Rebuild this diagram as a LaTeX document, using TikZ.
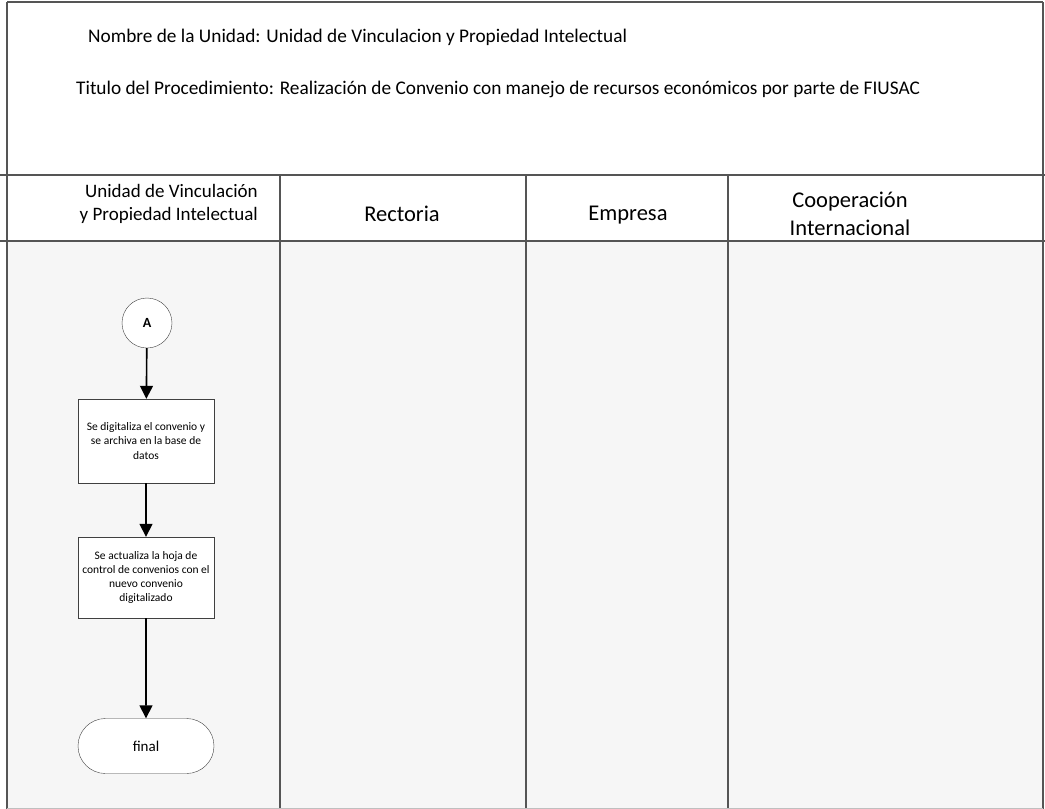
\documentclass[tikz,border=0pt]{standalone}
\usepackage{fontspec}
\setmainfont{Carlito}
\usetikzlibrary{arrows.meta,shapes.misc}
\definecolor{lanegray}{HTML}{F6F6F6}
\definecolor{rulegray}{HTML}{555555}
\tikzset{
  rule/.style={draw=rulegray, line width=1.2pt},
  lanehead/.style={font=\fontsize{22.5}{28}\selectfont, align=center},
  act/.style={draw=black!75, fill=white, minimum width=136pt, minimum height=84pt,
    align=center, inner sep=0pt, font=\fontsize{11.5}{14.2}\selectfont},
  flow/.style={line width=1.6pt, -{Triangle[length=13pt,width=13pt]}},
}
\begin{document}
\begin{tikzpicture}[x=1pt,y=-1pt]
\useasboundingbox (0,0) rectangle (1045,809);
\fill[white] (0,0) rectangle (1045,809);
\fill[lanegray] (7,241) rectangle (1043,809);

\draw[rule] (7,2) -- (1043,2);
\draw[rule] (0,175) -- (1045,175);
\draw[rule] (0,241) -- (1045,241);
\draw[rule] (7,2) -- (7,809);
\draw[rule] (1043,2) -- (1043,809);
\draw[rule] (280,175) -- (280,809);
\draw[rule] (526,175) -- (526,809);
\draw[rule] (728,175) -- (728,809);
\draw[draw=black!25] (7,808) -- (1043,808);

\node[anchor=west, font=\fontsize{19.3}{23}\selectfont, inner sep=0pt] (nombre) at (88,37) {Nombre de la Unidad: Unidad de Vinculacion y Propiedad Intelectual};
\node[anchor=west, font=\fontsize{19.3}{23}\selectfont, inner sep=0pt] (titulo) at (76,89) {Titulo del Procedimiento: Realización de Convenio con manejo de recursos económicos por parte de FIUSAC};

\node[anchor=east, align=right, font=\fontsize{19}{23}\selectfont, inner sep=0pt] (lane1) at (258,204) {Unidad de Vinculación\\y Propiedad Intelectual};
\node[lanehead] (lane2) at (402,214) {Rectoria};
\node[lanehead] (lane3) at (628,215) {Empresa};
\node[lanehead] (lane4) at (850,214) {Cooperación\\Internacional};

\node[circle, draw=black!75, fill=white, minimum size=50pt, inner sep=0pt, font=\bfseries\fontsize{14}{16}\selectfont] (conA) at (147,323) {A};
\node[act] (act1) at (146,441) {Se digitaliza el convenio y\\se archiva en la base de\\datos};
\node[act, minimum height=81pt] (act2) at (146,577.5) {Se actualiza la hoja de\\control de convenios con el\\nuevo convenio\\digitalizado};
\node[rounded rectangle, draw=black!75, fill=white, minimum width=136pt, minimum height=55pt, inner sep=0pt, font=\fontsize{15}{18}\selectfont] (fin) at (146,746) {final};

\draw[flow] (conA) -- (act1);
\draw[flow] (act1) -- (act2);
\draw[flow] (act2) -- (fin);

\end{tikzpicture}
\end{document}
